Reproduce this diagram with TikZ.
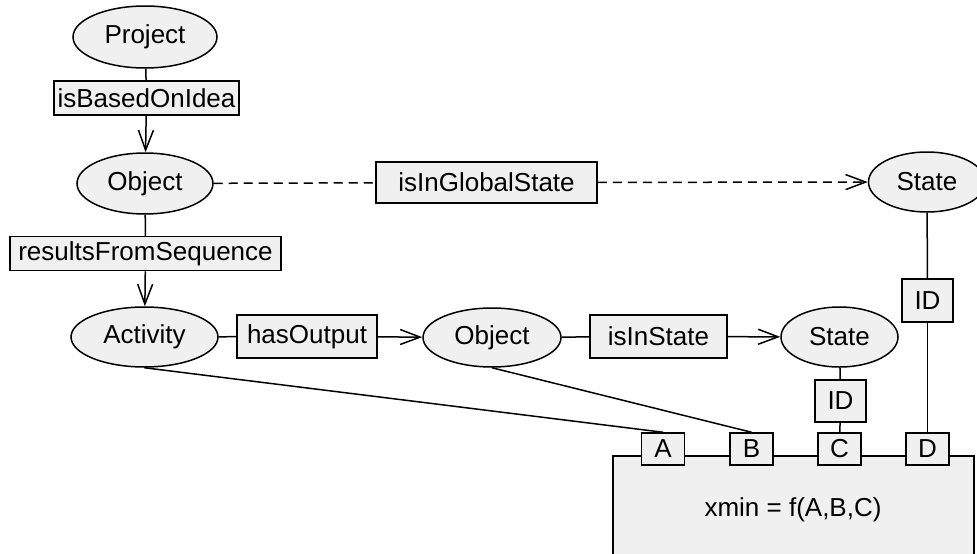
\documentclass[tikz,border=0pt]{standalone}
\usepackage{fontspec}
\setmainfont{Liberation Sans}
\usetikzlibrary{shapes.geometric,arrows.meta}
\definecolor{boxfill}{HTML}{F0F0F0}
\tikzset{
  every node/.style={font=\fontsize{26}{31}\selectfont, inner sep=0pt},
  ell/.style={ellipse, draw, fill=boxfill, line width=1.5pt},
  rel/.style={rectangle, draw, fill=boxfill, line width=1.5pt},
  conn/.style={line width=1.5pt},
  arr/.style={conn, -{Straight Barb[length=20pt,width=15pt,line width=1.5pt]}},
  dash8/.style={dash pattern=on 9pt off 6pt},
}
\begin{document}
\begin{tikzpicture}[x=1pt,y=-1pt]
\useasboundingbox (0,0) rectangle (977,554);
% big box and clipped state
\begin{scope}
\clip (0,0) rectangle (977,554);
\node[rel, minimum width=361pt, minimum height=130pt, anchor=north west] (F) at (612,455) {};
\node[ell, minimum width=117pt, minimum height=60pt] (S1) at (927,182) {State};
\end{scope}
\node at (793,510) {xmin = f(A,B,C)};
% ellipses
\node[ell, minimum width=144pt, minimum height=62pt] (P) at (145,37) {Project};
\node[ell, minimum width=136pt, minimum height=61pt] (O1) at (145,183.5) {Object};
\node[ell, minimum width=147pt, minimum height=60pt] (Ac) at (144.5,337) {Activity};
\node[ell, minimum width=138pt, minimum height=59pt] (O2) at (492,337.5) {Object};
\node[ell, minimum width=117pt, minimum height=60pt] (S2) at (839.5,337) {State};
% relation boxes
\node[rel, minimum width=185pt, minimum height=34pt] (R1) at (146.5,98) {isBasedOnIdea};
\node[rel, minimum width=271pt, minimum height=34pt] (R2) at (145.5,253.5) {resultsFromSequence};
\node[rel, minimum width=140pt, minimum height=43pt] (R3) at (307,336.5) {hasOutput};
\node[rel, minimum width=137pt, minimum height=43pt] (R4) at (658.5,336.5) {isInState};
\node[rel, minimum width=221pt, minimum height=41pt] (R5) at (486.5,182.5) {isInGlobalState};
\node[rel, minimum width=51pt, minimum height=43pt] (IDr) at (927.5,300.5) {ID};
\node[rel, minimum width=51pt, minimum height=42pt] (IDc) at (840.5,401) {ID};
% ports
\node[rel, minimum width=43pt, minimum height=32pt] (pA) at (663,449) {A};
\node[rel, minimum width=43pt, minimum height=32pt] (pB) at (751.5,449) {B};
\node[rel, minimum width=43pt, minimum height=32pt] (pC) at (839.5,449) {C};
\node[rel, minimum width=43pt, minimum height=32pt] (pD) at (927.5,449) {D};
% connectors
\draw[conn] (P) -- (R1);
\draw[arr] (R1) -- (O1);
\draw[conn] (O1) -- (R2);
\draw[arr] (R2) -- (Ac);
\draw[conn] (Ac) -- (R3);
\draw[arr] (R3) -- (O2);
\draw[conn] (O2) -- (R4);
\draw[arr] (R4) -- (S2);
\draw[conn, dash8] (O1) -- (R5);
\draw[arr, dash8] (R5) -- (S1);
\draw[conn] (S1) -- (IDr);
\draw[conn] (IDr) -- (pD);
\draw[conn] (S2) -- (IDc);
\draw[conn] (IDc) -- (pC);
\draw[conn] (Ac.south) -- (pA.north);
\draw[conn] (O2.south) -- (pB.north);
\end{tikzpicture}
\end{document}
